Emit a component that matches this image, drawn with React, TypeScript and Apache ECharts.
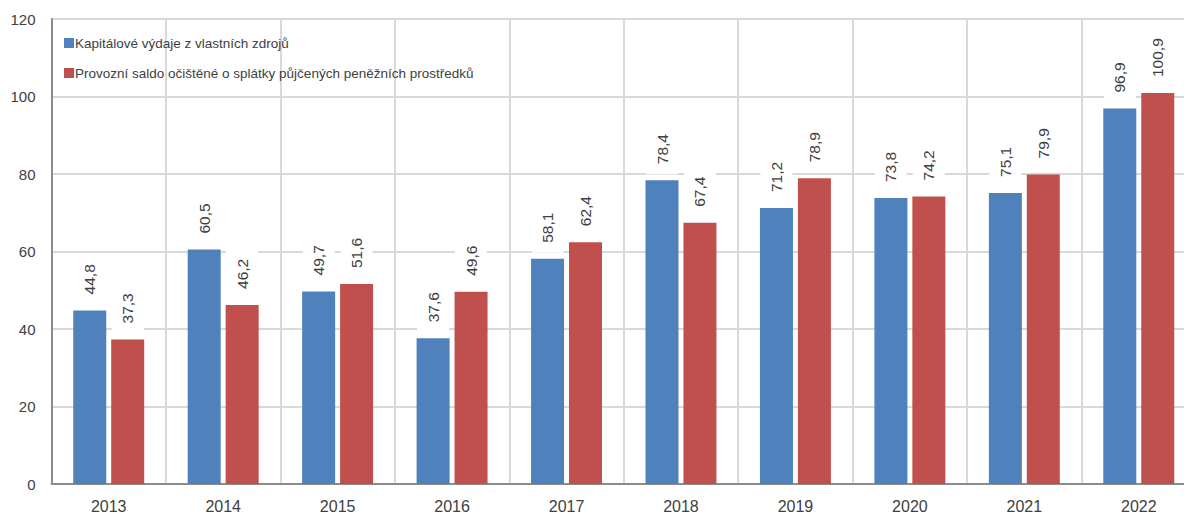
import React, { useEffect, useRef } from "react";
import * as echarts from "echarts";

const years = ["2013", "2014", "2015", "2016", "2017", "2018", "2019", "2020", "2021", "2022"];
const kapitalove = [44.8, 60.5, 49.7, 37.6, 58.1, 78.4, 71.2, 73.8, 75.1, 96.9];
const provozni = [37.3, 46.2, 51.6, 49.6, 62.4, 67.4, 78.9, 74.2, 79.9, 100.9];
const seriesNames = [
  "Kapitálové výdaje z vlastních zdrojů",
  "Provozní saldo očištěné o splátky půjčených peněžních prostředků",
];

const FONT = "Liberation Sans";
const fmt = (v: number) => v.toFixed(1).replace(".", ",");

export default function App() {
  const ref = useRef<HTMLDivElement>(null);
  useEffect(() => {
    document.body.style.margin = "0";
    document.body.style.overflow = "hidden";
    const chart = echarts.init(ref.current!, null, { renderer: "svg" });
    const label = {
      show: true,
      position: "top" as const,
      rotate: 90,
      align: "left" as const,
      verticalAlign: "middle" as const,
      distance: 6,
      backgroundColor: "#ffffff",
      padding: [8, 10],
      color: "#404040",
      fontFamily: FONT,
      fontSize: 15.5,
      formatter: (p: any) => fmt(p.value),
    };
    chart.setOption({
      animation: false,
      textStyle: { fontFamily: FONT },
      legend: {
        orient: "vertical",
        left: 59,
        top: 31,
        itemWidth: 10,
        itemHeight: 10,
        itemGap: 16,
        icon: "rect",
        textStyle: { fontFamily: FONT, fontSize: 13.5, color: "#404040", padding: [0, 0, 0, -4] },
        data: seriesNames,
      },
      grid: { left: 51.5, right: 14, top: 19, bottom: 31, containLabel: false },
      xAxis: {
        type: "category",
        data: years,
        axisLine: { lineStyle: { color: "#8c8c8c", width: 2 } },
        axisTick: { show: false },
        axisLabel: { color: "#404040", fontSize: 16, fontFamily: FONT, margin: 14 },
        splitLine: { show: true, lineStyle: { color: "#d9d9d9", width: 2 } },
      },
      yAxis: {
        type: "value",
        min: 0,
        max: 120,
        interval: 20,
        axisLine: { show: true, lineStyle: { color: "#8c8c8c", width: 2 } },
        axisTick: { show: false },
        axisLabel: { color: "#404040", fontSize: 15, fontFamily: FONT, margin: 16 },
        splitLine: { lineStyle: { color: "#d9d9d9", width: 2 } },
      },
      series: [
        {
          name: seriesNames[0],
          type: "bar",
          data: kapitalove,
          barWidth: 33,
          barGap: "15%",
          itemStyle: { color: "#4F81BD" },
          label,
        },
        {
          name: seriesNames[1],
          type: "bar",
          data: provozni,
          barWidth: 33,
          barGap: "15%",
          itemStyle: { color: "#C0504D" },
          label,
        },
      ],
    });
    return () => chart.dispose();
  }, []);
  return <div ref={ref} style={{ position: "absolute", left: 0, top: 0, width: 1210, height: 515 }} />;
}
